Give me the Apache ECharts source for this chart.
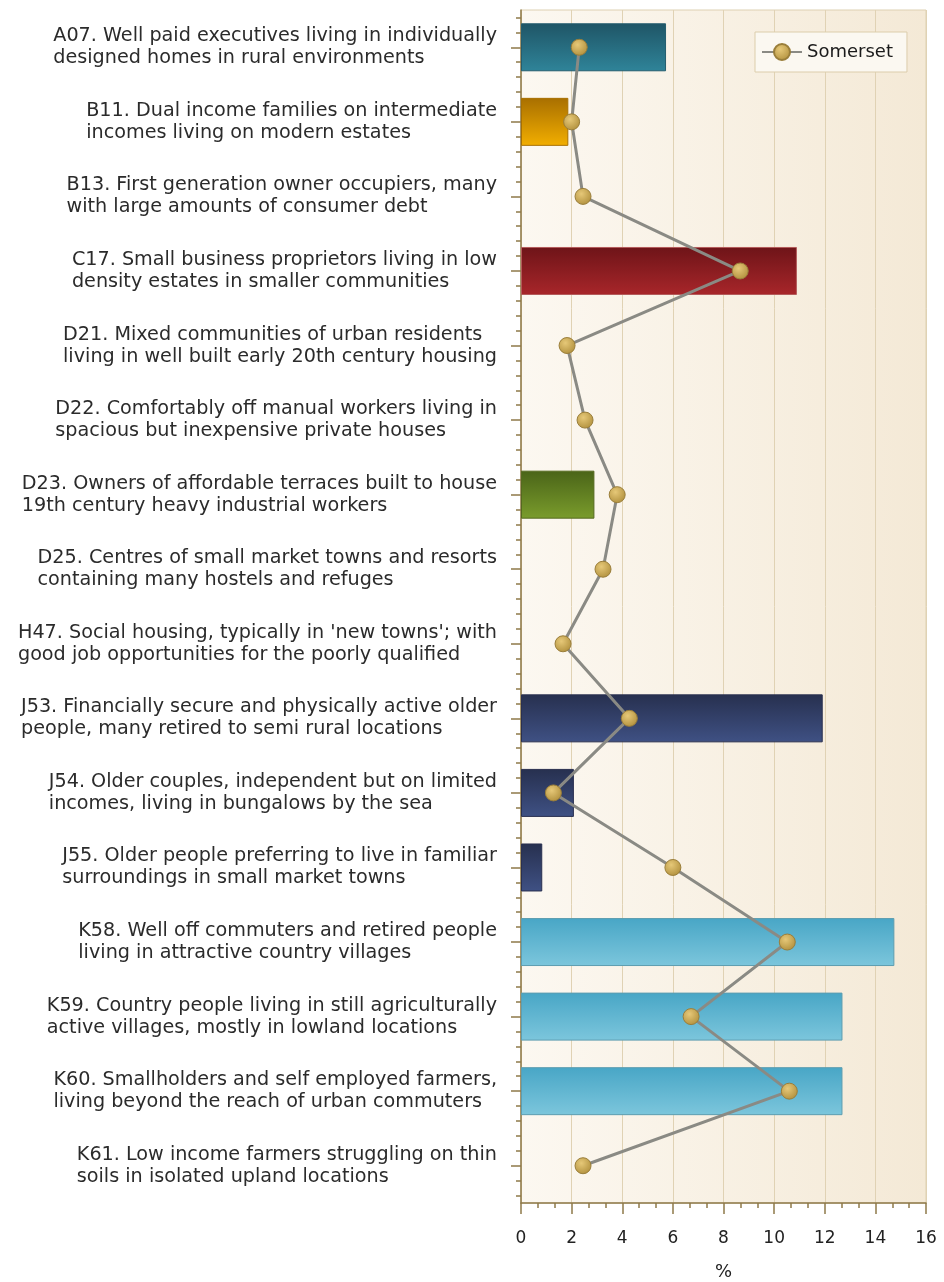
<!DOCTYPE html>
<html>
<head>
<meta charset="utf-8">
<title>Somerset</title>
<script src="https://cdn.jsdelivr.net/npm/echarts@6/dist/echarts.min.js"></script>
<style>
  html, body { margin: 0; padding: 0; background: #fff; }
  #chart { width: 944px; height: 1282px; }
</style>
</head>
<body>
<div id="chart"></div>
<script>
// categories (top to bottom)
var categories = [
  "A07. Well paid executives living in individually\ndesigned homes in rural environments",
  "B11. Dual income families on intermediate\nincomes living on modern estates",
  "B13. First generation owner occupiers, many\nwith large amounts of consumer debt",
  "C17. Small business proprietors living in low\ndensity estates in smaller communities",
  "D21. Mixed communities of urban residents\nliving in well built early 20th century housing",
  "D22. Comfortably off manual workers living in\nspacious but inexpensive private houses",
  "D23. Owners of affordable terraces built to house\n19th century heavy industrial workers",
  "D25. Centres of small market towns and resorts\ncontaining many hostels and refuges",
  "H47. Social housing, typically in 'new towns'; with\ngood job opportunities for the poorly qualified",
  "J53. Financially secure and physically active older\npeople, many retired to semi rural locations",
  "J54. Older couples, independent but on limited\nincomes, living in bungalows by the sea",
  "J55. Older people preferring to live in familiar\nsurroundings in small market towns",
  "K58. Well off commuters and retired people\nliving in attractive country villages",
  "K59. Country people living in still agriculturally\nactive villages, mostly in lowland locations",
  "K60. Smallholders and self employed farmers,\nliving beyond the reach of urban commuters",
  "K61. Low income farmers struggling on thin\nsoils in isolated upland locations"
];

// bar values (%), null = no bar
var barValues = [5.73, 1.87, null, 10.9, null, null, 2.9, null, null, 11.92, 2.09, 0.84, 14.75, 12.7, 12.7, null];

// Somerset line (%)
var somerset = [2.3, 2.0, 2.45, 8.66, 1.82, 2.53, 3.8, 3.24, 1.66, 4.28, 1.28, 6.0, 10.52, 6.72, 10.6, 2.45];

var xMin = 0, xMax = 16, xStep = 2;

// bar colours by group letter: [top, bottom, border]
var groupColors = {
  A: ['#1f5566', '#2f8499', '#245d6e'],
  B: ['#a86f00', '#f2ae00', '#a87000'],
  C: ['#6e1418', '#a8262a', '#b35a5a'],
  D: ['#4a6418', '#7a9c2c', '#55691f'],
  H: ['#6a4a7a', '#8a6a9a', '#5a3a6a'],
  J: ['#27304f', '#3f5184', '#2a3050'],
  K: ['#48a6c6', '#7cc6dc', '#5d9db0']
};

var font = 'DejaVu Sans';
var axisColor = '#8f7a4a';

var barData = barValues.map(function (v, i) {
  var c = groupColors[categories[i].charAt(0)];
  if (v == null || !c) return { value: null };
  return {
    value: v,
    itemStyle: {
      color: new echarts.graphic.LinearGradient(0, 0, 0, 1, [
        { offset: 0, color: c[0] },
        { offset: 1, color: c[1] }
      ]),
      borderColor: c[2],
      borderWidth: 1
    }
  };
});

// minor ticks between category centres
var minorTicks = [];
for (var i = 0; i < categories.length; i++) {
  minorTicks.push(i + 0.1, i + 0.3, i + 0.7, i + 0.9);
}

var chart = echarts.init(document.getElementById('chart'));
chart.setOption({
  animation: false,
  grid: {
    left: 521, right: 18, top: 10, bottom: 79,
    outerBoundsMode: 'none',
    show: true,
    borderColor: '#ddd0b2',
    borderWidth: 1,
    backgroundColor: new echarts.graphic.LinearGradient(0, 0, 1, 0, [
      { offset: 0, color: '#fcf8f1' },
      { offset: 1, color: '#f4e9d6' }
    ])
  },
  legend: {
    data: ['Somerset'],
    left: 755, top: 32,
    orient: 'vertical',
    padding: [11, 14, 11, 6],
    itemWidth: 40, itemHeight: 20,
    backgroundColor: '#fbf8f1',
    borderColor: '#dccdab',
    borderWidth: 1,
    borderRadius: 0,
    textStyle: { fontFamily: font, fontSize: 18, color: '#1a1a1a' }
  },
  xAxis: {
    type: 'value',
    min: xMin, max: xMax, interval: xStep,
    position: 'bottom',
    name: '%',
    nameLocation: 'middle',
    nameGap: 60,
    nameTextStyle: { fontFamily: font, fontSize: 18, color: '#222' },
    axisLine: { show: true, onZero: false, lineStyle: { color: axisColor, width: 1.5 } },
    axisTick: { show: true, length: 11, lineStyle: { color: axisColor, width: 1.5 } },
    minorTick: { show: true, splitNumber: 3, length: 5, lineStyle: { color: axisColor, width: 1.5 } },
    axisLabel: { margin: 27, fontFamily: font, fontSize: 17, color: '#222' },
    splitLine: { show: true, lineStyle: { color: '#e0d2b4', width: 1 } }
  },
  yAxis: [{
    type: 'category',
    data: categories,
    inverse: true,
    axisLine: { show: true, onZero: false, lineStyle: { color: axisColor, width: 1.5 } },
    axisTick: { show: true, alignWithLabel: true, length: 10, lineStyle: { color: axisColor, width: 1.5 } },
    axisLabel: {
      interval: 0,
      margin: 24,
      align: 'right',
      formatter: function (v) {
        return v.split('\n').map(function (s) { return '{t|' + s + '}'; }).join('\n');
      },
      rich: {
        t: { align: 'left', fontFamily: font, fontSize: 19.2, lineHeight: 22, color: '#2b2b2b' }
      }
    },
    splitLine: { show: false }
  }, {
    type: 'value',
    min: 0, max: categories.length,
    inverse: true,
    position: 'left',
    axisLine: { show: false, onZero: false },
    axisTick: { show: true, customValues: minorTicks, length: 5, lineStyle: { color: axisColor, width: 1.5 } },
    axisLabel: { show: false },
    splitLine: { show: false }
  }],
  series: [{
    type: 'bar',
    name: 'Area',
    yAxisIndex: 0,
    barWidth: 48,
    data: barData
  }, {
    type: 'line',
    name: 'Somerset',
    yAxisIndex: 0,
    data: somerset,
    symbol: 'circle',
    symbolSize: 16,
    z: 5,
    lineStyle: { color: '#8a8a84', width: 3 },
    itemStyle: {
      color: new echarts.graphic.RadialGradient(0.4, 0.35, 0.7, [
        { offset: 0, color: '#e6c878' },
        { offset: 1, color: '#b08f3c' }
      ]),
      borderColor: '#9a7e3a',
      borderWidth: 1
    }
  }]
});
</script>
</body>
</html>
